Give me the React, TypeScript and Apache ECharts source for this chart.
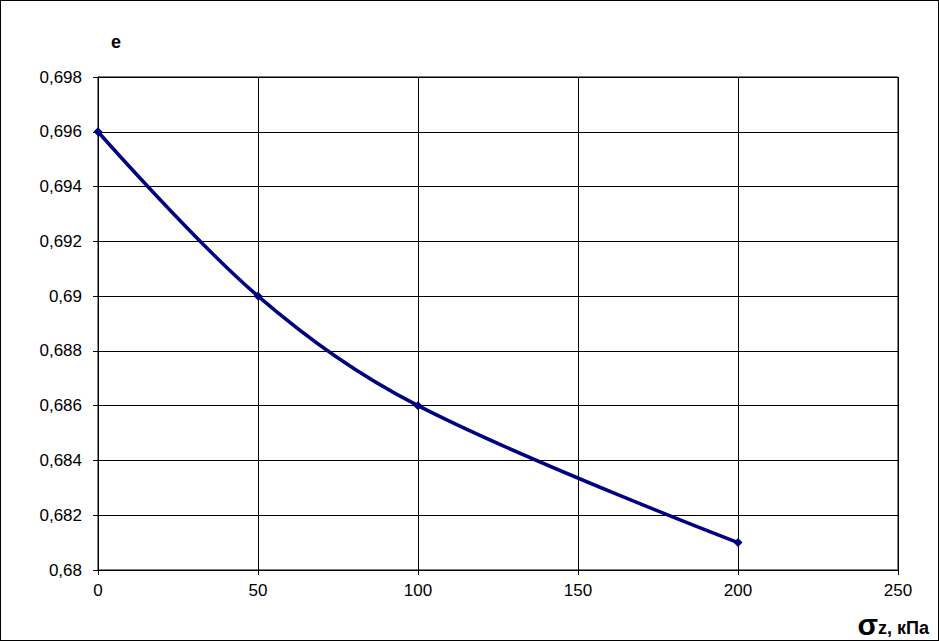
import React, { useEffect, useRef } from "react";
import * as echarts from "echarts";

const xValues = [0, 50, 100, 200];
const eValues = [0.696, 0.69, 0.686, 0.681];

export default function App() {
  const ref = useRef<HTMLDivElement>(null);
  useEffect(() => {
    document.body.style.margin = "0";
    const chart = echarts.init(ref.current!, null, { renderer: "svg" });
    const font = "'Liberation Sans', Arial, sans-serif";
    chart.setOption({
      animation: false,
      backgroundColor: "#fff",
      grid: { left: 97, top: 76, width: 800, height: 493, containLabel: false, show: true, borderColor: "#000", borderWidth: 1 },
      title: {
        text: "e",
        left: 105,
        top: 27,
        textStyle: { fontFamily: font, fontSize: 18, fontWeight: "bold", color: "#000" },
      },
      graphic: [
        {
          type: "text",
          right: 9,
          top: 608,
          style: {
            text: "{s|σ}{z|z, кПа}",
            rich: {
              s: { fontFamily: font, fontSize: 30, fontWeight: "bold", fill: "#000" },
              z: { fontFamily: font, fontSize: 18, fontWeight: "bold", fill: "#000", padding: [7, 0, 0, 0] },
            },
          },
        },
      ],
      xAxis: {
        type: "value",
        min: 0,
        max: 250,
        interval: 50,
        axisLine: { show: true, lineStyle: { color: "#000", width: 1 } },
        axisTick: { show: true, inside: false, length: 5, lineStyle: { color: "#000" } },
        splitLine: { show: true, lineStyle: { color: "#000", width: 1 } },
        axisLabel: { fontFamily: font, fontSize: 17, color: "#000", margin: 12 },
      },
      yAxis: {
        type: "value",
        min: 0.68,
        max: 0.698,
        interval: 0.002,
        axisLine: { show: true, lineStyle: { color: "#000", width: 1 } },
        axisTick: { show: true, inside: false, length: 5, lineStyle: { color: "#000" } },
        splitLine: { show: true, lineStyle: { color: "#000", width: 1 } },
        axisLabel: {
          fontFamily: font,
          fontSize: 17,
          color: "#000",
          margin: 16,
          formatter: (v: number) => String(parseFloat(v.toFixed(3))).replace(".", ","),
        },
      },
      series: [
        {
          type: "line",
          data: xValues.map((x, i) => [x, eValues[i]]),
          smooth: 0.35,
          symbol: "diamond",
          symbolSize: 9,
          lineStyle: { color: "#000080", width: 3.5 },
          itemStyle: { color: "#000080" },
        },
      ],
    });
    return () => chart.dispose();
  }, []);
  return (
    <div
      style={{
        position: "absolute",
        left: 0,
        top: 0,
        width: 939,
        height: 641,
        border: "1px solid #000",
        boxSizing: "border-box",
        background: "#fff",
      }}
    >
      <div ref={ref} style={{ width: 937, height: 639 }} />
    </div>
  );
}
